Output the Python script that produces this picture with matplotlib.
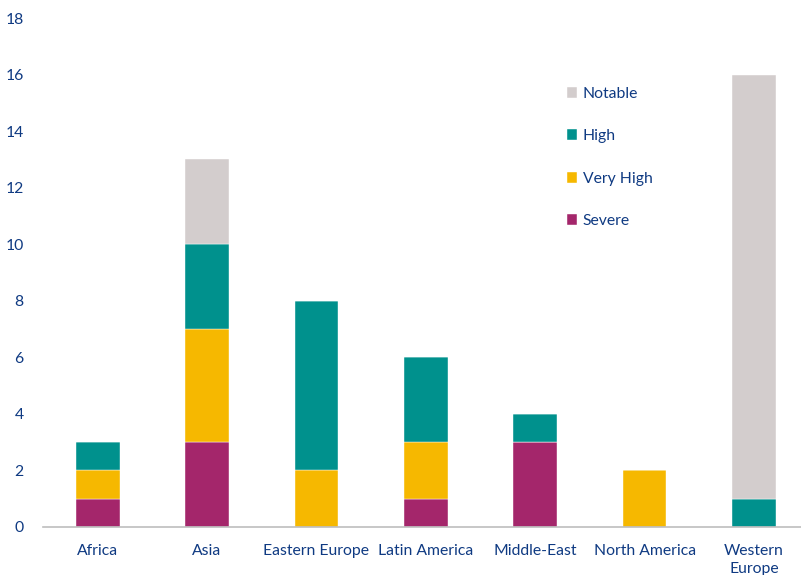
import numpy as np
import matplotlib.pyplot as plt

regions = ['Africa', 'Asia', 'Eastern Europe', 'Latin America', 'Middle-East',
           'North America', 'Western\nEurope']
severe = [1, 3, 0, 1, 3, 0, 0]
very_high = [1, 4, 2, 2, 0, 2, 0]
high = [1, 3, 6, 3, 1, 0, 1]
notable = [0, 3, 0, 0, 0, 0, 15]

series = [('Severe', severe, '#a4266b'),
          ('Very High', very_high, '#f6b800'),
          ('High', high, '#00918d'),
          ('Notable', notable, '#d3cdcd')]

txt = '#0f3a82'
plt.rcParams['font.family'] = ['Lato', 'DejaVu Sans']
plt.rcParams['font.size'] = 11

fig = plt.figure(figsize=(8.01, 5.75), dpi=100)
ax = fig.add_axes([43 / 801, 1 - 527 / 575, 758 / 801, 509 / 575])

x = np.arange(len(regions))
bottom = np.zeros(len(regions))
for name, vals, col in series:
    ax.bar(x, vals, width=0.4, bottom=bottom, color=col, label=name,
           edgecolor='white', linewidth=0.3)
    bottom += np.array(vals)

ax.set_xlim(-0.5, 6.43)
ax.set_ylim(0, 18)
ax.set_yticks(range(0, 19, 2))
ax.set_xticks(x)
ax.set_xticklabels(regions, linespacing=1.4)
ax.tick_params(axis='both', length=0, colors=txt, labelsize=11.3)
ax.tick_params(axis='x', pad=12)
ax.tick_params(axis='y', pad=14)
for s in ['top', 'right', 'left']:
    ax.spines[s].set_visible(False)
ax.spines['bottom'].set_color('#bdbdbd')
ax.spines['bottom'].set_linewidth(1.2)

h, l = ax.get_legend_handles_labels()
leg = ax.legend(h[::-1], l[::-1], loc='upper left', bbox_to_anchor=(0.672, 0.892),
                frameon=False, handlelength=0.7, handleheight=0.7,
                handletextpad=0.35, labelspacing=1.8, fontsize=11.3)
for t in leg.get_texts():
    t.set_color(txt)

fig.savefig('out.png', dpi=100)
